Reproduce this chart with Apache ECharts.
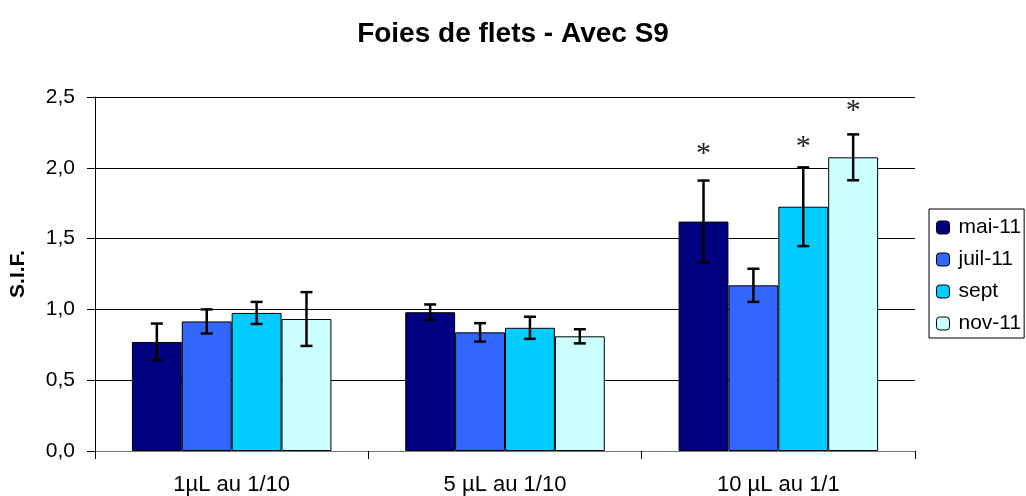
<!DOCTYPE html>
<html>
<head>
<meta charset="utf-8">
<script src="https://cdn.jsdelivr.net/npm/echarts@6/dist/echarts.min.js"></script>
<style>html,body{margin:0;padding:0;background:#fff}#c{width:1026px;height:496px}</style>
</head>
<body>
<div id="c"></div>
<script>
const categories = ['1µL au 1/10', '5 µL au 1/10', '10 µL au 1/1'];
const seriesNames = ['mai-11', 'juil-11', 'sept', 'nov-11'];
const colors = ['#000080', '#3366FF', '#00CCFF', '#CCFFFF'];
const yTicks = [0, 0.5, 1.0, 1.5, 2.0, 2.5];

const maiValues = [0.77, 0.98, 1.62];
const juilValues = [0.915, 0.838, 1.17];
const septValues = [0.975, 0.87, 1.725];
const novValues = [0.932, 0.81, 2.074];

const maiErr = [0.13, 0.055, 0.29];
const juilErr = [0.085, 0.065, 0.117];
const septErr = [0.078, 0.078, 0.278];
const novErr = [0.19, 0.05, 0.162];

const maiStars = [null, null, 2.15];
const juilStars = [null, null, null];
const septStars = [null, null, 2.20];
const novStars = [null, null, 2.46];

const allValues = [maiValues, juilValues, septValues, novValues];
const allErr = [maiErr, juilErr, septErr, novErr];
const allStars = [maiStars, juilStars, septStars, novStars];

const catGap = 0.27;
const nSeries = seriesNames.length;
const FONT = 'Liberation Sans, Arial, sans-serif';

function errRender(si) {
  return function (params, api) {
    const x = api.value(0), lo = api.value(1), hi = api.value(2), star = api.value(3);
    const band = api.size([1, 0])[0];
    const barW = band * (1 - catGap) / nSeries;
    const base = api.coord([x, 0]);
    const cx = base[0] - (nSeries / 2) * barW + barW * (si + 0.5);
    const pLo = api.coord([x, lo])[1];
    const pHi = api.coord([x, hi])[1];
    const hw = 6;
    const st = { stroke: '#000', lineWidth: 2.5 };
    const children = [
      { type: 'line', shape: { x1: cx, y1: pLo, x2: cx, y2: pHi }, style: st },
      { type: 'line', shape: { x1: cx - hw, y1: pHi, x2: cx + hw, y2: pHi }, style: st },
      { type: 'line', shape: { x1: cx - hw, y1: pLo, x2: cx + hw, y2: pLo }, style: st }
    ];
    if (!isNaN(star) && star !== null) {
      const ps = api.coord([x, star])[1];
      children.push({
        type: 'text',
        style: { text: '*', x: cx, y: ps + 8, align: 'center', verticalAlign: 'middle',
          font: '30px "Liberation Serif", "DejaVu Serif", serif', fill: '#222' }
      });
    }
    return { type: 'group', children: children };
  };
}

const series = [];
seriesNames.forEach(function (name, si) {
  series.push({
    name: name,
    type: 'bar',
    data: allValues[si],
    barGap: '0%',
    barCategoryGap: (catGap * 100) + '%',
    itemStyle: { color: colors[si], borderColor: '#000', borderWidth: 1 },
    emphasis: { disabled: true }
  });
});
seriesNames.forEach(function (name, si) {
  series.push({
    type: 'custom',
    renderItem: errRender(si),
    z: 10,
    silent: true,
    encode: { x: 0, y: [1, 2] },
    data: allValues[si].map(function (v, i) {
      const s = allStars[si][i];
      return [i, v - allErr[si][i], v + allErr[si][i], s === null ? NaN : s];
    })
  });
});

const chart = echarts.init(document.getElementById('c'));
chart.setOption({
  animation: false,
  backgroundColor: '#fff',
  textStyle: { fontFamily: FONT },
  title: {
    text: 'Foies de flets - Avec S9',
    left: 'center',
    top: 15,
    textStyle: { fontSize: 28, fontWeight: 'bold', color: '#000', fontFamily: FONT }
  },
  legend: {
    data: seriesNames,
    orient: 'vertical',
    left: 929,
    top: 209,
    itemWidth: 13,
    itemHeight: 13,
    itemGap: 11,
    padding: [8, 3, 4, 7],
    borderColor: '#000',
    borderWidth: 1,
    textStyle: { fontSize: 21, color: '#000', padding: [0, 0, 0, 4], fontFamily: FONT },
    itemStyle: { borderColor: '#000', borderWidth: 1 }
  },
  grid: { left: 95, right: 111, top: 97, bottom: 45 },
  xAxis: {
    type: 'category',
    data: categories,
    axisLine: { lineStyle: { color: '#777', width: 1 } },
    axisTick: { show: true, length: 8, lineStyle: { color: '#000' } },
    axisLabel: { fontSize: 22, color: '#000', margin: 23, fontFamily: FONT },
    splitLine: { show: false }
  },
  yAxis: {
    type: 'value',
    min: yTicks[0],
    max: yTicks[yTicks.length - 1],
    interval: 0.5,
    name: 'S.I.F.',
    nameLocation: 'middle',
    nameGap: 66,
    nameRotate: 90,
    nameMoveOverlap: false,
    nameTextStyle: { fontSize: 21, fontWeight: 'bold', color: '#000', fontFamily: FONT },
    axisLine: { show: true, lineStyle: { color: '#000', width: 1 } },
    axisTick: { show: true, length: 8, inside: false, lineStyle: { color: '#000' } },
    axisLabel: {
      fontSize: 21, color: '#000', margin: 20, fontFamily: FONT,
      formatter: function (v) { return v.toFixed(1).replace('.', ','); }
    },
    splitLine: { show: true, lineStyle: { color: '#000', width: 1 } }
  },
  series: series
});
</script>
</body>
</html>
